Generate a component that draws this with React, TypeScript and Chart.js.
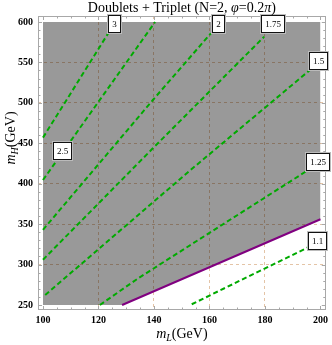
import React, { useEffect, useRef } from 'react';
import { Chart, registerables } from 'chart.js';

Chart.register(...registerables);

// ---- data ----
const xTicks = [100, 120, 140, 160, 180, 200];
const yTicks = [250, 300, 350, 400, 450, 500, 550, 600];
const xRange = [98.2, 201.9];
const yRange = [243.8, 607.4];

const c3X = [100, 123.5];
const c3Y = [457, 586];
const c25X = [100, 140.4];
const c25Y = [404.6, 600];
const c2X = [100, 139.6, 160.5];
const c2Y = [343, 503.5, 586];
const c175X = [100, 139.6, 179.7];
const c175Y = [306, 443.8, 581.8];
const c15X = [100.8, 153.2, 196.2];
const c15Y = [262.4, 417, 540.6];
const c125X = [120.5, 134.3, 195.6];
const c125Y = [250, 283, 417];
const c11X = [153.6, 195.6];
const c11Y = [250.9, 321.4];

const contourLabels = ['3', '2.5', '2', '1.75', '1.5', '1.25', '1.1'];
const labelX = [125.9, 107.1, 163.1, 182.8, 199.2, 199, 199];
const labelY = [597.5, 440.5, 597.5, 597.5, 551.8, 426.9, 328.6];

// lower edge of the excluded (gray) region, filled up to regionTop
const regionX = [100, 128.5, 200];
const regionY = [250, 250, 356];
const regionTop = 600;
// purple boundary
const boundaryX = [128.5, 200];
const boundaryY = [250, 356];

const SERIF = "'Liberation Serif', 'Times New Roman', serif";
const GREEN = 'rgb(0,170,0)';

const pts = (xs: number[], ys: number[]) => xs.map((x, i) => ({ x, y: ys[i] }));

const contourSet = (xs: number[], ys: number[]) => ({
  data: pts(xs, ys),
  showLine: true,
  borderColor: GREEN,
  borderWidth: 2,
  borderDash: [5, 3],
  pointRadius: 0,
  fill: false,
  order: 0,
});

type Seg = { text: string; font: string; dy?: number; w?: number };
function drawRich(ctx: CanvasRenderingContext2D, segs: Seg[], cx: number, y: number) {
  let total = 0;
  segs.forEach((s) => {
    ctx.font = s.font;
    s.w = ctx.measureText(s.text).width;
    total += s.w;
  });
  let x = cx - total / 2;
  ctx.textAlign = 'left';
  ctx.textBaseline = 'alphabetic';
  segs.forEach((s) => {
    ctx.font = s.font;
    ctx.fillText(s.text, x, y + (s.dy || 0));
    x += s.w || 0;
  });
}

const framePlugin = {
  id: 'framePlugin',
  afterDraw(chart: any) {
    const { ctx, chartArea: a, scales } = chart;
    const xs = scales.x;
    const ys = scales.y;
    ctx.save();
    ctx.strokeStyle = '#a8a8a8';
    ctx.lineWidth = 1;
    ctx.strokeRect(Math.round(a.left) + 0.5, Math.round(a.top) + 0.5, Math.round(a.right - a.left) - 1, Math.round(a.bottom - a.top) - 1);
    ctx.beginPath();
    for (let v = 100; v <= 200; v += 5) {
      const len = v % 20 === 0 ? 4 : 2.5;
      const px = Math.round(xs.getPixelForValue(v)) + 0.5;
      ctx.moveTo(px, a.bottom);
      ctx.lineTo(px, a.bottom - len);
      ctx.moveTo(px, a.top);
      ctx.lineTo(px, a.top + len);
    }
    for (let v = 250; v <= 600; v += 10) {
      const len = v % 50 === 0 ? 4 : 2.5;
      const py = Math.round(ys.getPixelForValue(v)) + 0.5;
      ctx.moveTo(a.left, py);
      ctx.lineTo(a.left + len, py);
      ctx.moveTo(a.right, py);
      ctx.lineTo(a.right - len, py);
    }
    ctx.stroke();

    // contour labels
    ctx.font = `9px ${SERIF}`;
    ctx.textAlign = 'center';
    ctx.textBaseline = 'middle';
    contourLabels.forEach((t, i) => {
      const cx = xs.getPixelForValue(labelX[i]);
      const cy = ys.getPixelForValue(labelY[i]);
      const w = Math.round(ctx.measureText(t).width + 8);
      const h = 18;
      const l = Math.round(cx - w / 2);
      const tp = Math.round(cy - h / 2);
      ctx.fillStyle = '#ffffff';
      ctx.fillRect(l, tp, w, h);
      ctx.strokeStyle = '#bbbbbb';
      ctx.strokeRect(l - 0.5, tp - 0.5, w + 1, h + 1);
      ctx.strokeStyle = '#111111';
      ctx.strokeRect(l + 0.5, tp + 0.5, w - 1, h - 1);
      ctx.fillStyle = '#000';
      ctx.fillText(t, l + w / 2, tp + h / 2 + 0.5);
    });

    // titles
    ctx.fillStyle = '#000';
    const cx = (a.left + a.right) / 2;
    const reg = `14px ${SERIF}`;
    const it = `italic 14px ${SERIF}`;
    drawRich(ctx, [
      { text: 'Doublets + Triplet (N=2, ', font: reg },
      { text: 'φ', font: it },
      { text: '=0.2', font: reg },
      { text: 'π', font: it },
      { text: ')', font: reg },
    ], cx, 12);
    drawRich(ctx, [
      { text: 'm', font: it },
      { text: 'L', font: `italic 10px ${SERIF}`, dy: 3 },
      { text: '(GeV)', font: reg },
    ], cx, 338);
    ctx.save();
    ctx.translate(15, 138);
    ctx.rotate(-Math.PI / 2);
    drawRich(ctx, [
      { text: 'm', font: it },
      { text: 'H', font: `italic 10px ${SERIF}`, dy: 3 },
      { text: '(GeV)', font: reg },
    ], 0, 0);
    ctx.restore();
    ctx.restore();
  },
};

const gridColor = (edges: number[]) => (c: any) =>
  c.tick && edges.includes(c.tick.value) ? 'rgba(0,0,0,0)' : 'rgb(228,196,166)';

export default function App() {
  const ref = useRef<HTMLCanvasElement | null>(null);
  useEffect(() => {
    document.body.style.margin = '0';
    const canvas = ref.current;
    if (!canvas) return;
    const chart = new Chart(canvas, {
      type: 'scatter',
      data: {
        datasets: [
          {
            data: pts(regionX, regionY),
            showLine: true,
            borderWidth: 0,
            borderColor: 'rgba(0,0,0,0)',
            backgroundColor: 'rgba(0,0,0,0.4)',
            pointRadius: 0,
            fill: { value: regionTop },
            order: 2,
          } as any,
          {
            data: pts(boundaryX, boundaryY),
            showLine: true,
            borderColor: 'rgb(128,0,128)',
            borderWidth: 2,
            pointRadius: 0,
            fill: false,
            order: 1,
          },
          contourSet(c3X, c3Y),
          contourSet(c25X, c25Y),
          contourSet(c2X, c2Y),
          contourSet(c175X, c175Y),
          contourSet(c15X, c15Y),
          contourSet(c125X, c125Y),
          contourSet(c11X, c11Y),
        ],
      },
      options: {
        animation: false,
        responsive: false,
        devicePixelRatio: 1,
        layout: { padding: { top: 16, right: 1, left: 0, bottom: 0 } },
        plugins: {
          legend: { display: false },
          title: { display: false },
          tooltip: { enabled: false },
        },
        scales: {
          x: {
            type: 'linear',
            min: xRange[0],
            max: xRange[1],
            afterBuildTicks: (s: any) => {
              s.ticks = xTicks.map((v) => ({ value: v }));
            },
            afterFit: (s: any) => {
              s.height = 35;
            },
            grid: { color: gridColor([100, 200]), drawTicks: false, lineWidth: 1 },
            border: { display: false, dash: [3, 3] },
            ticks: {
              padding: 4,
              color: '#000',
              font: { family: SERIF, size: 10, weight: 'bold' },
              maxRotation: 0,
              autoSkip: false,
            },
          },
          y: {
            type: 'linear',
            min: yRange[0],
            max: yRange[1],
            afterBuildTicks: (s: any) => {
              s.ticks = yTicks.map((v) => ({ value: v }));
            },
            afterFit: (s: any) => {
              s.width = 38;
            },
            grid: { color: gridColor([250, 600]), drawTicks: false, lineWidth: 1 },
            border: { display: false, dash: [3, 3] },
            ticks: {
              padding: 5,
              color: '#000',
              font: { family: SERIF, size: 10, weight: 'bold' },
              autoSkip: false,
            },
          },
        },
      },
      plugins: [framePlugin],
    } as any);
    return () => chart.destroy();
  }, []);
  return (
    <div style={{ width: 332, height: 345 }}>
      <canvas ref={ref} width={332} height={345} style={{ display: 'block' }} />
    </div>
  );
}
